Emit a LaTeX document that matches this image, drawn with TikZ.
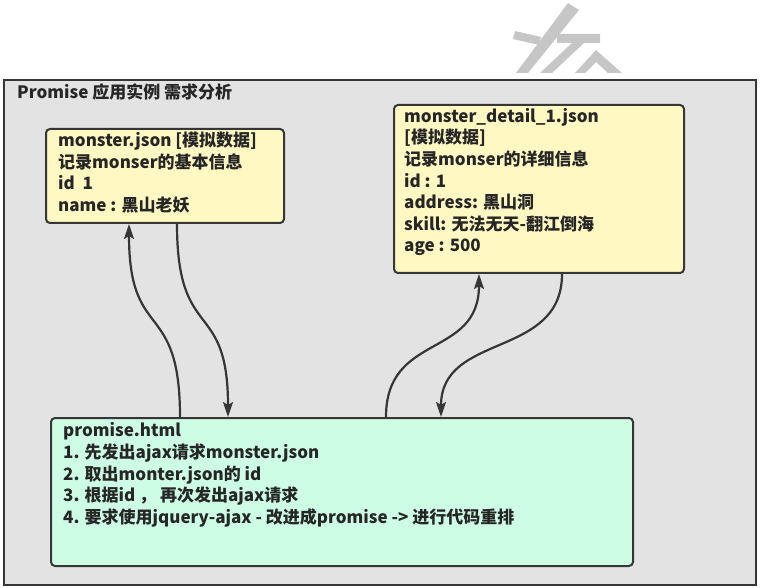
\documentclass[tikz,border=0pt]{standalone}
\usepackage{fontspec}
\setmainfont{Noto Sans CJK SC}
\usetikzlibrary{arrows.meta}
\definecolor{frameGray}{HTML}{E3E3E3}
\definecolor{lineDark}{HTML}{363636}
\definecolor{noteYellow}{HTML}{FFF8C3}
\definecolor{noteGreen}{HTML}{CDFDE4}
\definecolor{markGray}{HTML}{C6C6C6}
\tikzset{
  outerframe/.style={draw=lineDark, line width=2pt, fill=frameGray},
  notebox/.style={draw=lineDark, line width=2pt, rounded corners=4pt, inner sep=0pt, anchor=north west},
  ybox/.style={notebox, fill=noteYellow},
  gbox/.style={notebox, fill=noteGreen},
  txt/.style={anchor=north west, inner sep=0pt, align=left, font=\fontsize{17}{21.6}\selectfont\bfseries, text=black!85},
  link/.style={draw=lineDark, line width=2.2pt, -{Stealth[length=15pt,width=10pt,inset=3pt]}},
  wmark/.style={fill=markGray, draw=none}
}
\begin{document}
\begin{tikzpicture}[x=1pt,y=-1pt]
\useasboundingbox (0,0) rectangle (761,588);
% watermark
\fill[wmark] (568,3) -- (579,10) -- (528,73) -- (516,73) -- cycle;
\fill[wmark] (515,31) -- (541,37) -- (539,45) -- (513,39) -- cycle;
\fill[wmark] (557,34) -- (600,34) -- (600,43) -- (584,43) -- (552,73) -- (540,73) -- (572,43) -- (557,43) -- cycle;
\fill[wmark] (596,50) -- (622,73) -- (608,73) -- (596,62) -- (585,73) -- (575,73) -- cycle;
% outer frame
\node[outerframe, anchor=north west, minimum width=752pt, minimum height=505pt, inner sep=0pt] (frame) at (3,79) {};
\node[txt, font=\fontsize{17}{20}\selectfont\bfseries] (title) at (17,83) {Promise 应用实例 需求分析};
% boxes
\node[ybox, minimum width=238pt, minimum height=94pt] (mj) at (45,128) {};
\node[txt] (mjt) at ([xshift=13pt,yshift=-4pt]mj.north west) {monster.json [模拟数据]\\记录monser的基本信息\\id\ \ 1\\name : 黑山老妖};
\node[ybox, minimum width=290pt, minimum height=168pt] (md) at (393,104) {};
\node[txt] (mdt) at ([xshift=11pt,yshift=-4pt]md.north west) {monster\_detail\_1.json\\\relax [模拟数据]\\记录monser的详细信息\\id : 1\\address: 黑山洞\\skill: 无法无天-翻江倒海\\age : 500};
\node[gbox, minimum width=582pt, minimum height=148pt] (ph) at (50,417) {};
\node[txt] (pht) at ([xshift=13pt,yshift=-5.5pt]ph.north west) {promise.html\\1. 先发出ajax请求monster.json\\2. 取出monter.json的 id\\3. 根据id ，\ 再次发出ajax请求\\4. 要求使用jquery-ajax - 改进成promise -> 进行代码重排};
% connectors
\draw[link] ([xshift=130pt]ph.north west) .. controls +(0,-120) and +(0,120) .. ([xshift=84pt]mj.south west);
\draw[link] ([xshift=132pt]mj.south west) .. controls +(0,120) and +(0,-120) .. ([xshift=178pt]ph.north west);
\draw[link] ([xshift=336pt]ph.north west) .. controls +(0,-85) and +(0,85) .. ([xshift=86pt]md.south west);
\draw[link] ([xshift=169pt]md.south west) .. controls +(0,85) and +(0,-85) .. ([xshift=391pt]ph.north west);
\end{tikzpicture}
\end{document}
